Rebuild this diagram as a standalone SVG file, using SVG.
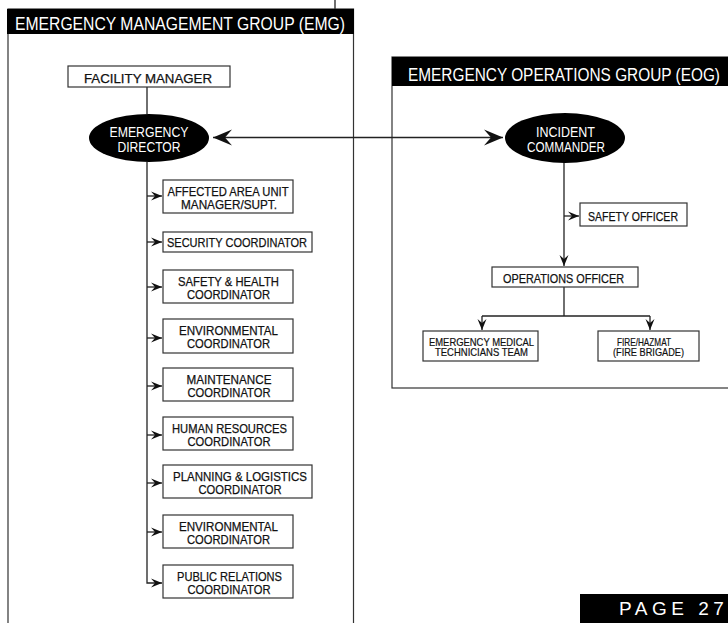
<svg xmlns="http://www.w3.org/2000/svg" width="728" height="623" viewBox="0 0 728 623">
<style>
.frame{fill:none;stroke:#333;stroke-width:1.2}
.hdr{fill:#000}
.hdrt{fill:#fff;font-family:"Liberation Sans",Arial,sans-serif;font-size:18px}
.box{fill:#fff;stroke:#333;stroke-width:1.2}
.t{fill:#111;stroke:#111;stroke-width:0.25;font-family:"Liberation Sans",Arial,sans-serif;font-size:13px;text-anchor:middle}
.ts{fill:#111;stroke:#111;stroke-width:0.2;font-family:"Liberation Sans",Arial,sans-serif;font-size:10.5px;text-anchor:middle}
.ell{fill:#000}
.et{fill:#fff;font-family:"Liberation Sans",Arial,sans-serif;font-size:14px;text-anchor:middle}
.c{fill:none;stroke:#222;stroke-width:1.3}
.a{marker-end:url(#sm)}
.page{fill:#fff;font-family:"Liberation Sans",Arial,sans-serif;font-size:19px;letter-spacing:4.5px}
</style>
<defs>
<marker id="sm" markerUnits="userSpaceOnUse" markerWidth="14" markerHeight="12" viewBox="-12 -6 14 12" refX="0" refY="0" orient="auto">
<path d="M0,0 L-11,-4.5 L-7,0 L-11,4.5 Z" fill="#111"/>
</marker>
<marker id="lg" markerUnits="userSpaceOnUse" markerWidth="22" markerHeight="20" viewBox="-20 -10 22 20" refX="0" refY="0" orient="auto-start-reverse">
<path d="M0,0 L-19,-8 L-12,0 L-19,8 Z" fill="#111"/>
</marker>
</defs>

<g id="emg-group">
<line x1="335" y1="0" x2="335" y2="9" class="c"/>
<rect x="8" y="9" width="345.5" height="630" class="frame"/>
<rect x="7" y="9" width="347" height="25" class="hdr"/>
<text x="15" y="30" class="hdrt" textLength="330" lengthAdjust="spacingAndGlyphs">EMERGENCY MANAGEMENT GROUP (EMG)</text>
</g>

<g id="eog-group">
<rect x="392" y="57" width="345" height="331" class="frame"/>
<rect x="392" y="57" width="340" height="29" class="hdr"/>
<text x="408" y="81" class="hdrt" textLength="312" lengthAdjust="spacingAndGlyphs">EMERGENCY OPERATIONS GROUP (EOG)</text>
</g>

<g id="connectors">
<line x1="147" y1="87" x2="147" y2="114" class="c"/>
<path d="M147,162 V583 H162" class="c a"/>
<line x1="147" y1="196" x2="162" y2="196" class="c a"/>
<line x1="147" y1="242" x2="162" y2="242" class="c a"/>
<line x1="147" y1="287" x2="162" y2="287" class="c a"/>
<line x1="147" y1="338" x2="162" y2="338" class="c a"/>
<line x1="147" y1="386" x2="162" y2="386" class="c a"/>
<line x1="147" y1="435" x2="162" y2="435" class="c a"/>
<line x1="147" y1="483" x2="162" y2="483" class="c a"/>
<line x1="147" y1="532" x2="162" y2="532" class="c a"/>
<line x1="213" y1="137.5" x2="503" y2="137.5" class="c" marker-start="url(#lg)" marker-end="url(#lg)"/>
<line x1="564" y1="162" x2="564" y2="266" class="c a"/>
<line x1="564" y1="216" x2="579" y2="216" class="c a"/>
<path d="M564,287 V316" class="c"/>
<path d="M482,316 H650" class="c"/>
<line x1="482" y1="316" x2="482" y2="330" class="c a"/>
<line x1="650" y1="316" x2="650" y2="330" class="c a"/>
</g>

<g id="facility-manager">
<rect x="68" y="66" width="162" height="21" class="box"/>
<text x="148" y="83" class="t" font-size="15" textLength="128" lengthAdjust="spacingAndGlyphs">FACILITY MANAGER</text>
</g>

<g id="emergency-director">
<ellipse cx="149" cy="138" rx="60" ry="24" class="ell"/>
<text x="149" y="137" class="et" textLength="79" lengthAdjust="spacingAndGlyphs">EMERGENCY</text>
<text x="149" y="152" class="et" textLength="63" lengthAdjust="spacingAndGlyphs">DIRECTOR</text>
</g>

<g id="affected-area">
<rect x="163" y="180" width="130" height="33" class="box"/>
<text x="228" y="196" class="t" textLength="121" lengthAdjust="spacingAndGlyphs">AFFECTED AREA UNIT</text>
<text x="229" y="208.5" class="t" textLength="96" lengthAdjust="spacingAndGlyphs">MANAGER/SUPT.</text>
</g>

<g id="security-coordinator">
<rect x="163" y="232" width="149" height="20" class="box"/>
<text x="237" y="247" class="t" textLength="140" lengthAdjust="spacingAndGlyphs">SECURITY COORDINATOR</text>
</g>

<g id="safety-health">
<rect x="163" y="270" width="130" height="33" class="box"/>
<text x="228.5" y="286" class="t" textLength="101" lengthAdjust="spacingAndGlyphs">SAFETY &amp; HEALTH</text>
<text x="228.5" y="298.5" class="t" textLength="83" lengthAdjust="spacingAndGlyphs">COORDINATOR</text>
</g>

<g id="environmental-1">
<rect x="163" y="319" width="130" height="34" class="box"/>
<text x="228.5" y="335" class="t" textLength="99" lengthAdjust="spacingAndGlyphs">ENVIRONMENTAL</text>
<text x="228.5" y="347.5" class="t" textLength="83" lengthAdjust="spacingAndGlyphs">COORDINATOR</text>
</g>

<g id="maintenance">
<rect x="163" y="368" width="130" height="33" class="box"/>
<text x="229" y="384" class="t" textLength="85" lengthAdjust="spacingAndGlyphs">MAINTENANCE</text>
<text x="229" y="396.5" class="t" textLength="83" lengthAdjust="spacingAndGlyphs">COORDINATOR</text>
</g>

<g id="human-resources">
<rect x="163" y="417" width="130" height="33" class="box"/>
<text x="229.5" y="433" class="t" textLength="115" lengthAdjust="spacingAndGlyphs">HUMAN RESOURCES</text>
<text x="229" y="445.5" class="t" textLength="83" lengthAdjust="spacingAndGlyphs">COORDINATOR</text>
</g>

<g id="planning-logistics">
<rect x="163" y="465" width="149" height="33" class="box"/>
<text x="240" y="481" class="t" textLength="134" lengthAdjust="spacingAndGlyphs">PLANNING &amp; LOGISTICS</text>
<text x="240" y="493.5" class="t" textLength="83" lengthAdjust="spacingAndGlyphs">COORDINATOR</text>
</g>

<g id="environmental-2">
<rect x="163" y="515" width="130" height="33" class="box"/>
<text x="228.5" y="531" class="t" textLength="99" lengthAdjust="spacingAndGlyphs">ENVIRONMENTAL</text>
<text x="228.5" y="543.5" class="t" textLength="83" lengthAdjust="spacingAndGlyphs">COORDINATOR</text>
</g>

<g id="public-relations">
<rect x="163" y="565" width="130" height="33" class="box"/>
<text x="229.5" y="581" class="t" textLength="105" lengthAdjust="spacingAndGlyphs">PUBLIC RELATIONS</text>
<text x="229" y="593.5" class="t" textLength="83" lengthAdjust="spacingAndGlyphs">COORDINATOR</text>
</g>

<g id="incident-commander">
<ellipse cx="565" cy="138" rx="60" ry="25" class="ell"/>
<text x="565.5" y="137" class="et" textLength="59" lengthAdjust="spacingAndGlyphs">INCIDENT</text>
<text x="566" y="152" class="et" textLength="78" lengthAdjust="spacingAndGlyphs">COMMANDER</text>
</g>

<g id="safety-officer">
<rect x="580" y="203" width="107" height="23" class="box"/>
<text x="633" y="221" class="t" textLength="90" lengthAdjust="spacingAndGlyphs">SAFETY OFFICER</text>
</g>

<g id="operations-officer">
<rect x="492" y="267" width="146" height="20" class="box"/>
<text x="563.5" y="283" class="t" textLength="121" lengthAdjust="spacingAndGlyphs">OPERATIONS OFFICER</text>
</g>

<g id="emt-team">
<rect x="423" y="331" width="115" height="30" class="box"/>
<text x="481.5" y="346" class="ts" textLength="105" lengthAdjust="spacingAndGlyphs">EMERGENCY MEDICAL</text>
<text x="481.5" y="356" class="ts" textLength="93" lengthAdjust="spacingAndGlyphs">TECHNICIANS TEAM</text>
</g>

<g id="fire-hazmat">
<rect x="598" y="331" width="101" height="30" class="box"/>
<text x="644" y="346" class="ts" textLength="54" lengthAdjust="spacingAndGlyphs">FIRE/HAZMAT</text>
<text x="648.5" y="356" class="ts" textLength="71" lengthAdjust="spacingAndGlyphs">(FIRE BRIGADE)</text>
</g>

<g id="page-label">
<rect x="580" y="594" width="150" height="30" class="hdr"/>
<text x="619" y="615" class="page">PAGE 27</text>
</g>
</svg>
